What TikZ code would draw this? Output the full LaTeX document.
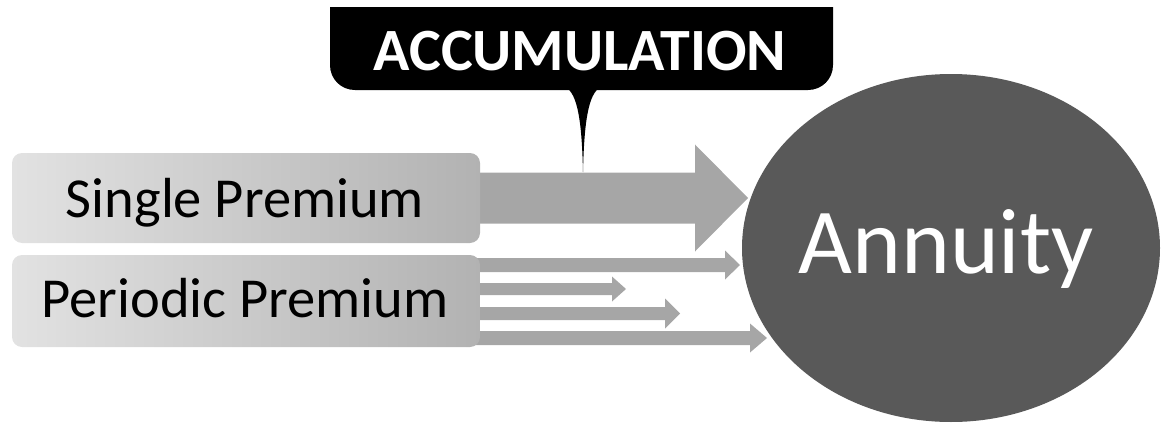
\documentclass[tikz,border=0pt]{standalone}
\usepackage{fontspec}
\setmainfont{Carlito}
\usetikzlibrary{shapes.geometric,backgrounds}

\definecolor{boxleft}{HTML}{E2E2E2}
\definecolor{boxright}{HTML}{B2B2B2}
\definecolor{flowgray}{HTML}{A6A6A6}
\definecolor{annuitygray}{HTML}{595959}

\tikzset{
  premiumbox/.style={rectangle, rounded corners=10pt, inner sep=0pt,
    left color=boxleft, right color=boxright, draw=none},
  premiumlabel/.style={anchor=base, inner sep=0pt, font=\fontsize{56.5}{64}\selectfont, text=black},
  flowfill/.style={fill=flowgray},
}

% block arrow: start x, head start x, tip x, centre y, shaft half-height, head half-height
\newcommand\flowarrow[6]{%
  \fill[flowfill] (#1,#4-#5) -- (#2,#4-#5) -- (#2,#4-#6) -- (#3,#4)
    -- (#2,#4+#6) -- (#2,#4+#5) -- (#1,#4+#5) -- cycle;}

\begin{document}
\begin{tikzpicture}[x=1pt,y=-1pt]
\useasboundingbox (0,0) rectangle (1163,423);

% premium boxes
\node[premiumbox, minimum width=468pt, minimum height=90pt] (single) at (246,198) {};
\node[premiumbox, minimum width=468pt, minimum height=92pt] (periodic) at (246,301) {};
\node[premiumlabel] (singlelabel) at (245,217) {Single Premium};
\node[premiumlabel] (periodiclabel) at (245,317) {Periodic Premium};

% flows into the annuity, behind the boxes
\begin{scope}[on background layer]
  \flowarrow{470}{695}{748}{198}{25.5}{53.5}
  \flowarrow{470}{725}{740}{265}{7}{14.5}
  \flowarrow{470}{612}{626}{289}{6}{12.5}
  \flowarrow{470}{665}{680}{313.5}{6.5}{15}
  \flowarrow{470}{750}{767}{338}{7}{14.5}
\end{scope}

% annuity
\node[ellipse, fill=annuitygray, draw=none, minimum width=418pt, minimum height=348pt, inner sep=0pt] (annuity) at (951,248) {};
\node[anchor=base, inner sep=0pt, text=white, font=\fontsize{93}{104}\selectfont] (annuitylabel) at (946,273) {Annuity};

% accumulation callout with its pointer
\fill[black] (330,7) -- (833,7) -- (833,65) .. controls (833,79) and (822,90) .. (808,90)
  -- (355,90) .. controls (341,90) and (330,79) .. (330,65) -- cycle;
\fill[black] (568,89) .. controls (579,98) and (582,130) .. (583,172)
  .. controls (584,130) and (587,98) .. (598,89) -- cycle;
\node[anchor=base, inner sep=0pt, text=white, font=\bfseries\fontsize{60}{66}\selectfont] (accumulation) at (580,70) {ACCUMULATION};
\end{tikzpicture}
\end{document}
